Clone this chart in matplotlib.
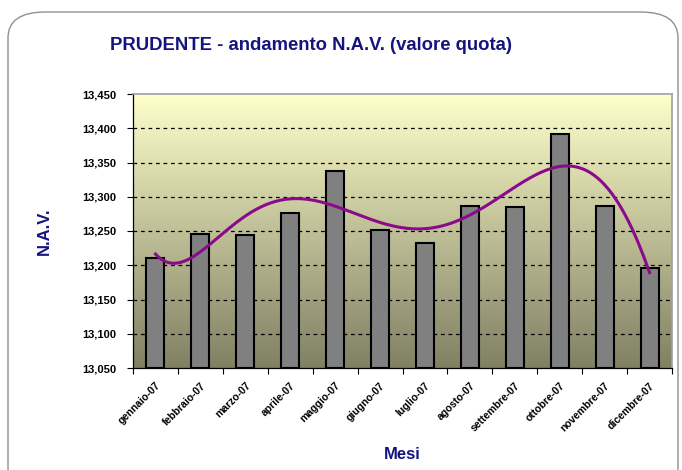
import matplotlib

matplotlib.use("Agg")
import matplotlib.pyplot as plt
import numpy as np
from matplotlib.patches import FancyBboxPatch

# ─── Data ───────────────────────────────────────────────────────────────────
mesi = [
    "gennaio-07", "febbraio-07", "marzo-07", "aprile-07", "maggio-07",
    "giugno-07", "luglio-07", "agosto-07", "settembre-07", "ottobre-07",
    "novembre-07", "dicembre-07",
]
nav = [13.210, 13.246, 13.244, 13.276, 13.338, 13.251,
       13.233, 13.287, 13.285, 13.392, 13.287, 13.196]

y_ticks = [13.05, 13.10, 13.15, 13.20, 13.25, 13.30, 13.35, 13.40, 13.45]
y_labels = ["13,050", "13,100", "13,150", "13,200", "13,250",
            "13,300", "13,350", "13,400", "13,450"]

TITLE_COLOR = "#14147f"
LINE_COLOR = "#8b0a8b"

plt.rcParams["font.family"] = ["Liberation Sans", "DejaVu Sans"]

fig = plt.figure(figsize=(6.82, 4.70), dpi=100, facecolor="white")

# rounded frame round the whole chart (bottom edge runs off the picture)
frame = FancyBboxPatch(
    (8 / 682, -0.05), 1 - 12 / 682, 1 - 12 / 470 + 0.05,
    boxstyle="round,pad=0,rounding_size=0.055",
    transform=fig.transFigure, facecolor="none", edgecolor="#909090",
    linewidth=1.0, zorder=-1,
)
fig.patches.append(frame)

ax = fig.add_axes([133 / 682, 1 - 368 / 470, (672 - 133) / 682, (368 - 94) / 470])

x = np.arange(len(mesi))
ymin, ymax = 13.05, 13.45

# gradient background: pale yellow at top, olive grey at bottom
top = np.array([255, 255, 204]) / 255
bot = np.array([128, 128, 100]) / 255
t = np.linspace(0, 1, 256)[:, None]
grad = (top * (1 - t) + bot * t)[:, None, :]
ax.imshow(grad, aspect="auto", extent=[-0.5, len(mesi) - 0.5, ymin, ymax],
          origin="upper", zorder=0, interpolation="bilinear")

for yv in y_ticks[1:-1]:
    ax.axhline(yv, color="black", linestyle=(0, (3, 3)), linewidth=0.9, zorder=1)

ax.bar(x, np.array(nav) - ymin, bottom=ymin, width=0.4, color="#808080",
       edgecolor="black", linewidth=1.5, zorder=2)

# polynomial trend line (order 6) over the bar values
coef = np.polyfit(x, nav, 6)
xs = np.linspace(0, len(mesi) - 1, 300)
ax.plot(xs, np.polyval(coef, xs), color=LINE_COLOR, linewidth=2.2, zorder=3)

ax.set_xlim(-0.5, len(mesi) - 0.5)
ax.set_ylim(ymin, ymax)

ax.set_yticks(y_ticks)
ax.set_yticklabels(y_labels, fontsize=8, fontweight="bold")
ax.set_xticks(x)
ax.set_xticklabels(mesi, rotation=45, ha="right", rotation_mode="anchor",
                   fontsize=7.5, fontweight="bold")
ax.tick_params(axis="x", length=0, pad=9)
ax.set_xticks(np.arange(len(mesi) + 1) - 0.5, minor=True)
ax.tick_params(axis="x", which="minor", length=4, width=0.8, direction="out")
ax.tick_params(axis="y", length=4, width=0.8, direction="out", pad=8)

for side in ("top", "right"):
    ax.spines[side].set_color("#a0a0a0")
    ax.spines[side].set_linewidth(1.2)
for side in ("left", "bottom"):
    ax.spines[side].set_color("black")
    ax.spines[side].set_linewidth(0.9)

ax.set_xlabel("Mesi", fontsize=12, fontweight="bold", color=TITLE_COLOR, labelpad=10)
ax.set_ylabel("N.A.V.", fontsize=12, fontweight="bold", color=TITLE_COLOR, labelpad=22)

fig.text(110 / 682, 1 - 45 / 470, "PRUDENTE - andamento N.A.V. (valore quota)",
         fontsize=13.3, fontweight="bold", color=TITLE_COLOR, ha="left", va="center")

fig.savefig("out.png", dpi=100, facecolor="white")
